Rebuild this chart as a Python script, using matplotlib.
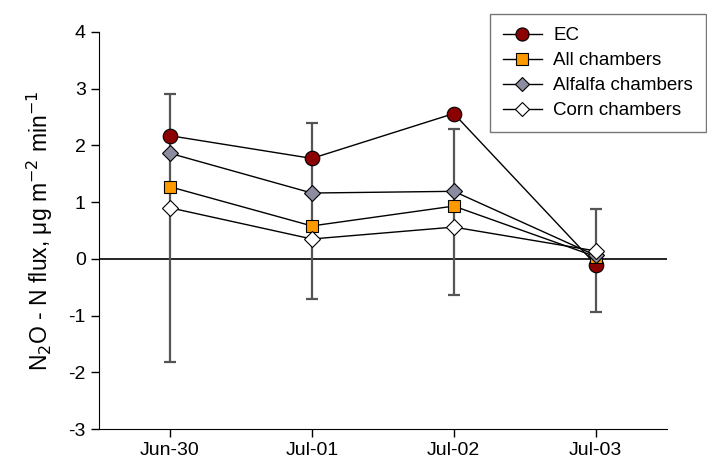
import matplotlib
matplotlib.use("Agg")
import matplotlib.pyplot as plt
import numpy as np

plt.rcParams['font.family'] = ['Liberation Sans', 'DejaVu Sans']

dates = ['Jun-30', 'Jul-01', 'Jul-02', 'Jul-03']
ec = [2.17, 1.77, 2.56, -0.10]
all_ch = [1.27, 0.58, 0.93, 0.04]
alfalfa = [1.86, 1.16, 1.19, 0.06]
corn = [0.90, 0.35, 0.56, 0.14]
# error bar extents (absolute)
err_low = [-1.82, -0.71, -0.64, -0.93]
err_high = [2.90, 2.40, 2.29, 0.88]
err_mid = [0.54, 0.85, 0.83, -0.02]

x = np.arange(len(dates))

fig = plt.figure(figsize=(7.07, 4.68), dpi=100)
ax = fig.add_axes([0.140, 0.083, 0.803, 0.849])

ax.axhline(0, color='black', lw=1.2, zorder=1)

yerr = [np.array(err_mid) - np.array(err_low), np.array(err_high) - np.array(err_mid)]
ax.errorbar(x, err_mid, yerr=yerr, fmt='none', ecolor='#555555', elinewidth=1.6,
            capsize=4.5, capthick=1.6, zorder=2)

ax.plot(x, ec, '-o', color='black', lw=1, ms=10.5, mfc='#8b0000', mec='black',
        mew=0.8, label='EC', zorder=3)
ax.plot(x, all_ch, '-s', color='black', lw=1, ms=9, mfc='#ff9900', mec='black',
        mew=0.8, label='All chambers', zorder=4)
ax.plot(x, alfalfa, '-D', color='black', lw=1, ms=8, mfc='#8c8ca0', mec='black',
        mew=0.8, label='Alfalfa chambers', zorder=4)
ax.plot(x, corn, '-D', color='black', lw=1, ms=8, mfc='white', mec='black',
        mew=0.8, label='Corn chambers', zorder=5)

ax.set_xlim(-0.5, 3.5)
ax.set_ylim(-3, 4)
ax.set_xticks(x)
ax.set_xticklabels(dates, fontsize=14)
ax.set_yticks(range(-3, 5))
ax.set_yticklabels([str(v) for v in range(-3, 5)], fontsize=14)
ax.tick_params(direction='out', length=6, width=1)
ax.spines['top'].set_visible(False)
ax.spines['right'].set_visible(False)
ax.set_ylabel('N$_2$O - N flux, μg m$^{-2}$ min$^{-1}$', fontsize=16.5, labelpad=10)

leg = ax.legend(loc='upper right', bbox_to_anchor=(0.999, 0.970),
                bbox_transform=fig.transFigure, fontsize=13.5,
                frameon=True, fancybox=False, borderpad=0.7, labelspacing=0.42,
                handlelength=2.1, handletextpad=0.6, markerscale=0.9,
                borderaxespad=0)
leg.get_frame().set_edgecolor('#555555')
leg.get_frame().set_linewidth(1)

fig.savefig('out.png', dpi=100)
